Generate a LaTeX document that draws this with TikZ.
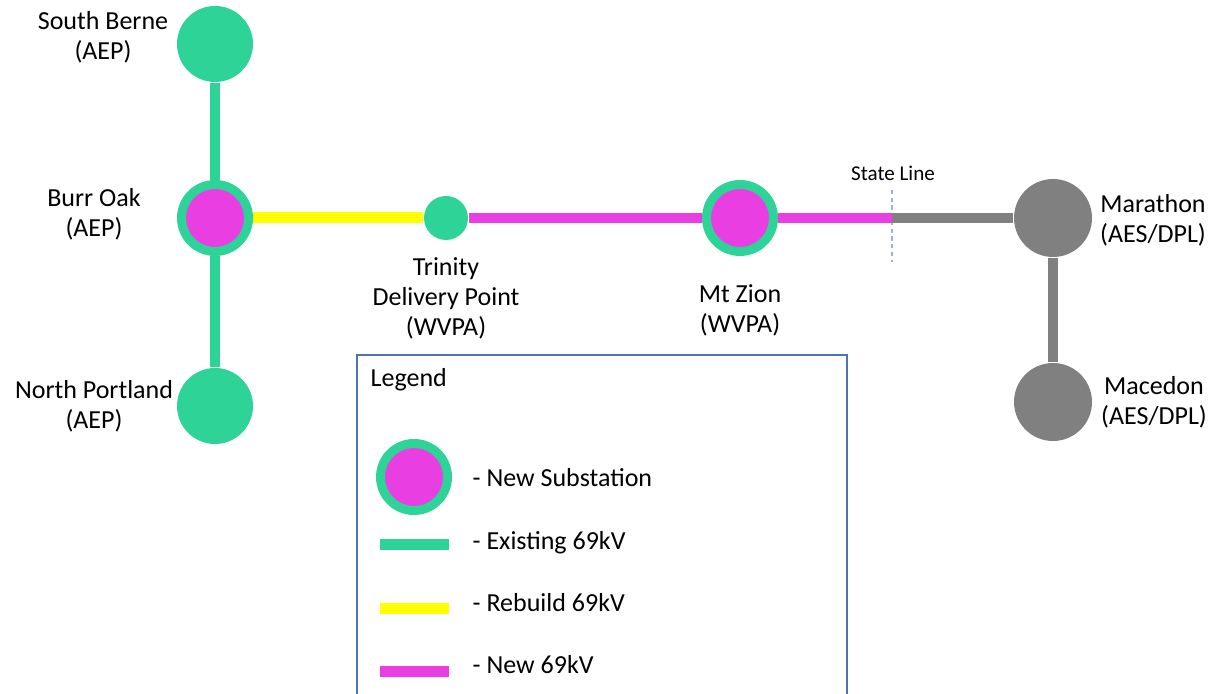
\documentclass[tikz,border=0pt]{standalone}
\usepackage{fontspec}
\setmainfont{Carlito}
\definecolor{grn}{RGB}{46,211,152}
\definecolor{mag}{RGB}{233,62,226}
\definecolor{ylw}{RGB}{255,255,0}
\definecolor{gry}{RGB}{128,128,128}
\definecolor{bdr}{RGB}{79,114,176}
\definecolor{stl}{RGB}{150,180,225}
\tikzset{
  oldsub/.style={circle,fill=grn,minimum size=0.76cm,inner sep=0pt},
  newsub/.style={circle,fill=mag,draw=grn,line width=0.09cm,minimum size=0.67cm,inner sep=0pt},
  tapsub/.style={circle,fill=grn,minimum size=0.44cm,inner sep=0pt},
  othersub/.style={circle,fill=gry,minimum size=0.78cm,inner sep=0pt},
  existing/.style={draw=grn,line width=0.1cm},
  rebuild/.style={draw=ylw,line width=0.11cm},
  newln/.style={draw=mag,line width=0.1cm},
  otherln/.style={draw=gry,line width=0.1cm},
  lbl/.style={align=center,inner sep=0pt},
  legtxt/.style={anchor=base west,inner sep=0pt}
}
\begin{document}
\begin{tikzpicture}[x=1cm,y=-1cm,font=\fontsize{7.4}{8.5}\selectfont]
			\useasboundingbox (0,0) rectangle (12.28,6.94);
			%Trạm
			\node[oldsub] (south) at (2.15,0.44) {};
			\node[newsub] (burr) at (2.15,2.18) {};
			\node[oldsub] (north) at (2.15,4.06) {};
			\node[tapsub] (trin) at (4.46,2.18) {};
			\node[newsub] (zion) at (7.40,2.18) {};
			\node[othersub] (mara) at (10.53,2.18) {};
			\node[othersub] (mace) at (10.53,4.02) {};
			%Ranh giới bang
			\coordinate (state) at (8.92,2.18);
			\coordinate (sltop) at (8.92,1.90);
			\coordinate (slbot) at (8.92,2.62);
			\draw[stl,line width=0.5pt,dash pattern=on 1.2pt off 1pt] (sltop)--(slbot);
			\node[lbl,font=\fontsize{6}{7}\selectfont] (statelbl) at (8.93,1.73) {State Line};
			%Đường dây
			\draw[existing] (south)--(burr)--(north);
			\draw[rebuild] (burr)--(trin);
			\draw[newln] (trin)--(zion)--(state);
			\draw[otherln] (state)--(mara)--(mace);
			%Tên trạm
			\node[lbl] (southlbl) at (1.03,0.37) {South Berne\\(AEP)};
			\node[lbl] (burrlbl) at (0.94,2.14) {Burr Oak\\(AEP)};
			\node[lbl] (northlbl) at (0.94,4.06) {North Portland\\(AEP)};
			\node[lbl] (trinlbl) at (4.46,2.98) {Trinity\\Delivery Point\\(WVPA)};
			\node[lbl] (zionlbl) at (7.40,3.10) {Mt Zion\\(WVPA)};
			\node[lbl] (maralbl) at (11.53,2.20) {Marathon\\(AES/DPL)};
			\node[lbl] (macelbl) at (11.54,4.02) {Macedon\\(AES/DPL)};
			%Chú giải
			\draw[bdr,line width=0.5pt] (3.57,7.0)--(3.57,3.55)--(8.47,3.55)--(8.47,7.0);
			\node[legtxt] (legtitle) at (3.70,3.87) {Legend};
			\node[newsub] (legsub) at (4.14,4.77) {};
			\node[legtxt] at (4.72,4.87) {- New Substation};
			\draw[existing,line width=0.11cm] (3.80,5.45)--(4.49,5.45);
			\node[legtxt] at (4.72,5.50) {- Existing 69kV};
			\draw[rebuild] (3.80,6.08)--(4.49,6.08);
			\node[legtxt] at (4.72,6.11) {- Rebuild 69kV};
			\draw[newln,line width=0.11cm] (3.80,6.71)--(4.49,6.71);
			\node[legtxt] at (4.72,6.73) {- New 69kV};
		\end{tikzpicture}
\end{document}
